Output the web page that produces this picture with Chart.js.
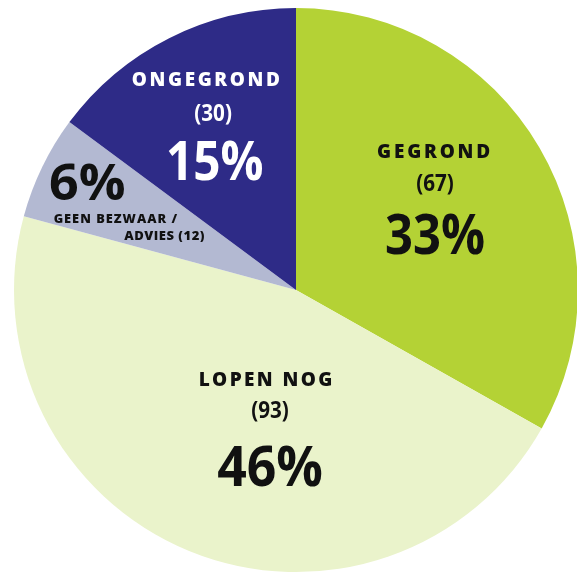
<!DOCTYPE html>
<html>
<head>
<meta charset="utf-8">
<script src="https://cdn.jsdelivr.net/npm/chart.js@4"></script>
<style>
  html, body { margin: 0; padding: 0; background: #fff; overflow: hidden; }
  #wrap { position: absolute; left: 0; top: 0; width: 592px; height: 580px; }
</style>
</head>
<body>
<div id="wrap"><canvas id="c" width="592" height="580"></canvas></div>
<script>
// gegevens
const categorieen = ['GEGROND', 'LOPEN NOG', 'GEEN BEZWAAR / ADVIES', 'ONGEGROND'];
const aantallen = [67, 93, 12, 30];
const percentages = ['33%', '46%', '6%', '15%'];
const kleuren = ['#b4d235', '#eaf3cb', '#b3b9d2', '#2e2b87'];

const FONT = '"Open Sans", "Noto Sans", sans-serif';

// labels in de taartpunten tekenen (posities relatief t.o.v. middelpunt, in fracties van de straal)
const labelPlugin = {
  id: 'labels',
  afterDraw(chart) {
    const ctx = chart.ctx;
    const arc = chart.getDatasetMeta(0).data[0];
    const cx = arc.x, cy = arc.y, r = arc.outerRadius;

    function tekst(str, fx, fy, size, weight, color, align, spacing, sx) {
      const x = cx + fx * r, y = cy + fy * r;
      ctx.save();
      ctx.translate(x, y);
      ctx.scale(sx || 1, 1);
      ctx.font = weight + ' ' + size + 'px ' + FONT;
      ctx.fillStyle = color;
      ctx.textAlign = align || 'center';
      ctx.textBaseline = 'middle';
      ctx.letterSpacing = (spacing || 0) + 'px';
      ctx.fillText(str, 0, 0);
      ctx.restore();
    }

    const ink = '#111';
    // GEGROND
    tekst(categorieen[0], 0.493, -0.489, 19, 800, ink, 'center', 2.8);
    tekst('(' + aantallen[0] + ')', 0.493, -0.374, 24, 700, ink, 'center', 0, 0.86);
    tekst(percentages[0], 0.493, -0.183, 55, 700, ink, 'center', 0, 0.89);

    // LOPEN NOG
    tekst(categorieen[1], -0.104, 0.323, 19, 800, ink, 'center', 2.4);
    tekst('(' + aantallen[1] + ')', -0.092, 0.431, 24, 700, ink, 'center', 0, 0.86);
    tekst(percentages[1], -0.092, 0.641, 55, 700, ink, 'center', 0, 0.94);

    // GEEN BEZWAAR / ADVIES
    tekst(percentages[2], -0.74, -0.37, 51, 700, ink, 'center', 0, 1.02);
    tekst('GEEN BEZWAAR /', -0.418, -0.252, 12.8, 800, ink, 'right', 1);
    tekst('ADVIES (' + aantallen[2] + ')', -0.323, -0.19, 13, 800, ink, 'right', 0.5);

    // ONGEGROND
    tekst(categorieen[3], -0.315, -0.741, 19, 800, '#fff', 'center', 2.6);
    tekst('(' + aantallen[3] + ')', -0.294, -0.624, 24, 700, '#fff', 'center', 0, 0.86);
    tekst(percentages[3], -0.288, -0.443, 53, 700, '#fff', 'center', 0, 0.9);
  }
};

new Chart(document.getElementById('c'), {
  type: 'pie',
  data: {
    labels: categorieen,
    datasets: [{
      data: aantallen,
      backgroundColor: kleuren,
      borderWidth: 0
    }]
  },
  options: {
    responsive: false,
    animation: false,
    layout: { padding: 8 },
    plugins: {
      legend: { display: false },
      tooltip: { enabled: false }
    }
  },
  plugins: [labelPlugin]
});
</script>
</body>
</html>
